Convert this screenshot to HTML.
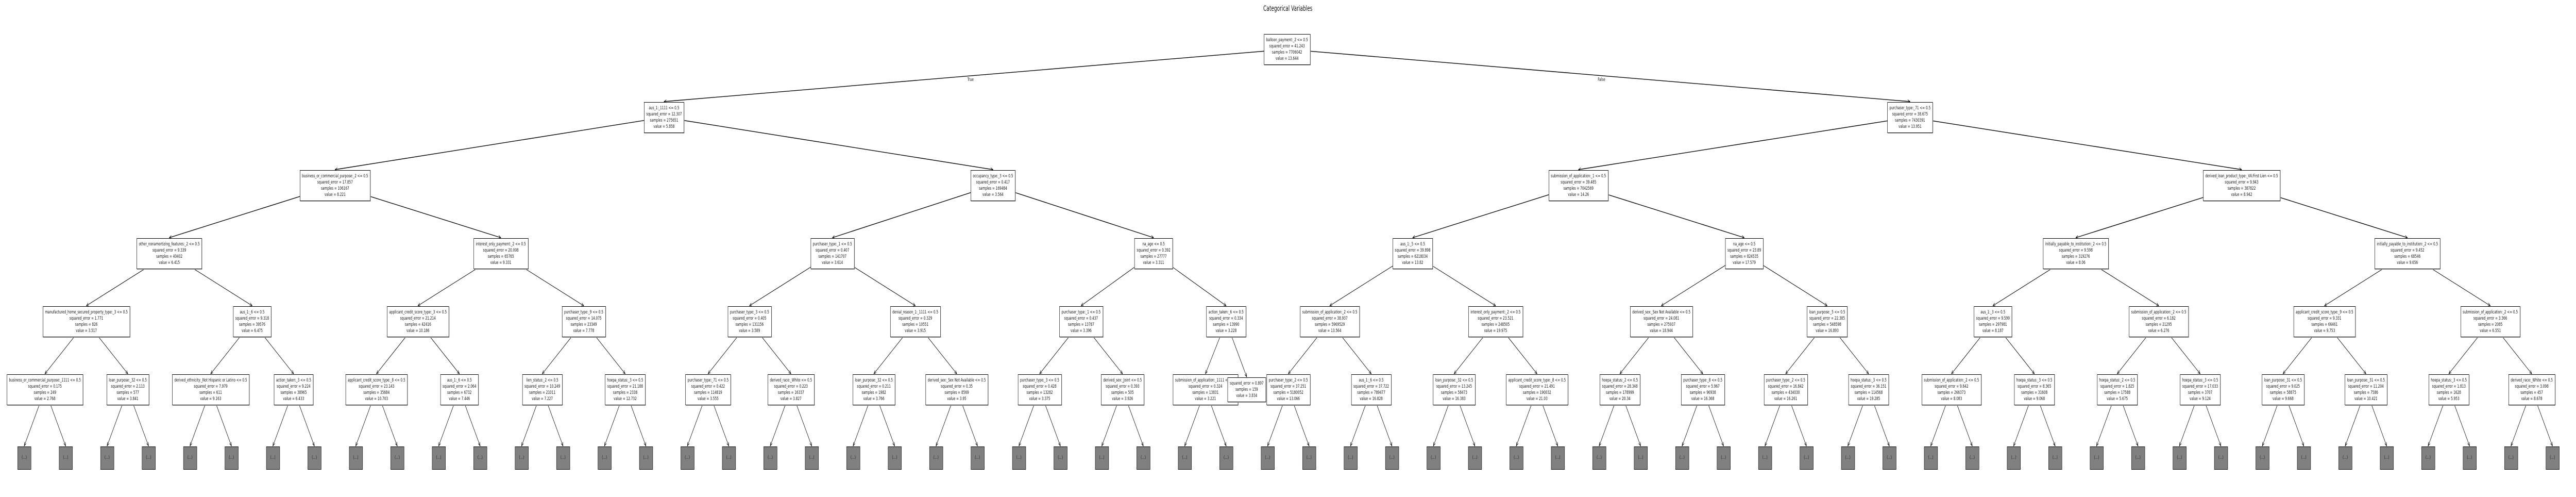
<!DOCTYPE html>
<html><head><meta charset="utf-8"><style>
html,body{margin:0;padding:0;background:#fff;overflow:hidden;}
#c{position:absolute;left:0;top:0;width:7769px;height:964px;overflow:hidden;background:#fff;font-family:"DejaVu Sans","Liberation Sans",sans-serif;transform-origin:0 0;}
svg{position:absolute;left:0;top:0;}
.n{position:absolute;transform:translate(-50%,-50%);background:#fff;border:1.5px solid #000;padding:5px 6px;font-size:9px;line-height:12px;text-align:center;white-space:nowrap;color:#111;box-shadow:1px 1px 0 #bbb;}
.l{position:absolute;width:39px;height:43px;background:#808080;border:1.5px solid #111;font-size:9px;line-height:43px;text-align:center;color:#222;top:866px;}
.t{position:absolute;font-size:9px;transform:translate(-50%,-50%);color:#111;}
#title{position:absolute;left:3884px;top:17px;transform:translate(-50%,-50%);font-size:14px;color:#111;white-space:nowrap;}
</style></head><body><div id="c">
<svg width="7769" height="964">
<defs><marker id="a" markerWidth="8" markerHeight="8" refX="7" refY="4" orient="auto" markerUnits="userSpaceOnUse"><path d="M0,1 L7,4 L0,7" fill="none" stroke="#000" stroke-width="1"/></marker></defs>
<g stroke="#000" stroke-width="1.4" marker-end="url(#a)">
<line x1="3881.6" y1="95.5" x2="2002.7" y2="197"/>
<line x1="3881.6" y1="95.5" x2="5760.5" y2="197"/>
<line x1="2002.7" y1="227.5" x2="1010.5" y2="329"/>
<line x1="2002.7" y1="227.5" x2="2994.8" y2="329"/>
<line x1="5760.5" y1="227.5" x2="4760.5" y2="329"/>
<line x1="5760.5" y1="227.5" x2="6760.5" y2="329"/>
<line x1="1010.5" y1="359.5" x2="510.5" y2="461"/>
<line x1="1010.5" y1="359.5" x2="1510.5" y2="461"/>
<line x1="2994.8" y1="359.5" x2="2510.5" y2="461"/>
<line x1="2994.8" y1="359.5" x2="3479.1" y2="461"/>
<line x1="4760.5" y1="359.5" x2="4260.5" y2="461"/>
<line x1="4760.5" y1="359.5" x2="5260.5" y2="461"/>
<line x1="6760.5" y1="359.5" x2="6260.5" y2="461"/>
<line x1="6760.5" y1="359.5" x2="7260.5" y2="461"/>
</g>
<g stroke="#000" stroke-width="1.1" marker-end="url(#a)">
<line x1="510.5" y1="491.5" x2="260.5" y2="593"/><line x1="510.5" y1="491.5" x2="760.5" y2="593"/>
<line x1="1510.5" y1="491.5" x2="1260.5" y2="593"/><line x1="1510.5" y1="491.5" x2="1760.5" y2="593"/>
<line x1="2510.5" y1="491.5" x2="2260.5" y2="593"/><line x1="2510.5" y1="491.5" x2="2760.5" y2="593"/>
<line x1="3479.1" y1="491.5" x2="3260.5" y2="593"/><line x1="3479.1" y1="491.5" x2="3697.75" y2="593"/>
<line x1="4260.5" y1="491.5" x2="4010.5" y2="593"/><line x1="4260.5" y1="491.5" x2="4510.5" y2="593"/>
<line x1="5260.5" y1="491.5" x2="5010.5" y2="593"/><line x1="5260.5" y1="491.5" x2="5510.5" y2="593"/>
<line x1="6260.5" y1="491.5" x2="6010.5" y2="593"/><line x1="6260.5" y1="491.5" x2="6510.5" y2="593"/>
<line x1="7260.5" y1="491.5" x2="7010.5" y2="593"/><line x1="7260.5" y1="491.5" x2="7510.5" y2="593"/>

<line x1="260.5" y1="623.5" x2="135.5" y2="725"/><line x1="260.5" y1="623.5" x2="385.5" y2="725"/>
<line x1="760.5" y1="623.5" x2="635.5" y2="725"/><line x1="760.5" y1="623.5" x2="885.5" y2="725"/>
<line x1="1260.5" y1="623.5" x2="1135.5" y2="725"/><line x1="1260.5" y1="623.5" x2="1385.5" y2="725"/>
<line x1="1760.5" y1="623.5" x2="1635.5" y2="725"/><line x1="1760.5" y1="623.5" x2="1885.5" y2="725"/>
<line x1="2260.5" y1="623.5" x2="2135.5" y2="725"/><line x1="2260.5" y1="623.5" x2="2385.5" y2="725"/>
<line x1="2760.5" y1="623.5" x2="2635.5" y2="725"/><line x1="2760.5" y1="623.5" x2="2885.5" y2="725"/>
<line x1="3260.5" y1="623.5" x2="3135.5" y2="725"/><line x1="3260.5" y1="623.5" x2="3385.5" y2="725"/>
<line x1="3697.75" y1="623.5" x2="3635.5" y2="725"/><line x1="3697.75" y1="623.5" x2="3760" y2="731"/>
<line x1="4010.5" y1="623.5" x2="3885.5" y2="725"/><line x1="4010.5" y1="623.5" x2="4135.5" y2="725"/>
<line x1="4510.5" y1="623.5" x2="4385.5" y2="725"/><line x1="4510.5" y1="623.5" x2="4635.5" y2="725"/>
<line x1="5010.5" y1="623.5" x2="4885.5" y2="725"/><line x1="5010.5" y1="623.5" x2="5135.5" y2="725"/>
<line x1="5510.5" y1="623.5" x2="5385.5" y2="725"/><line x1="5510.5" y1="623.5" x2="5635.5" y2="725"/>
<line x1="6010.5" y1="623.5" x2="5885.5" y2="725"/><line x1="6010.5" y1="623.5" x2="6135.5" y2="725"/>
<line x1="6510.5" y1="623.5" x2="6385.5" y2="725"/><line x1="6510.5" y1="623.5" x2="6635.5" y2="725"/>
<line x1="7010.5" y1="623.5" x2="6885.5" y2="725"/><line x1="7010.5" y1="623.5" x2="7135.5" y2="725"/>
<line x1="7510.5" y1="623.5" x2="7385.5" y2="725"/><line x1="7510.5" y1="623.5" x2="7635.5" y2="725"/>

<line x1="135.5" y1="755.5" x2="73" y2="865"/><line x1="135.5" y1="755.5" x2="198" y2="865"/>
<line x1="385.5" y1="755.5" x2="323" y2="865"/><line x1="385.5" y1="755.5" x2="448" y2="865"/>
<line x1="635.5" y1="755.5" x2="573" y2="865"/><line x1="635.5" y1="755.5" x2="698" y2="865"/>
<line x1="885.5" y1="755.5" x2="823" y2="865"/><line x1="885.5" y1="755.5" x2="948" y2="865"/>
<line x1="1135.5" y1="755.5" x2="1073" y2="865"/><line x1="1135.5" y1="755.5" x2="1198" y2="865"/>
<line x1="1385.5" y1="755.5" x2="1323" y2="865"/><line x1="1385.5" y1="755.5" x2="1448" y2="865"/>
<line x1="1635.5" y1="755.5" x2="1573" y2="865"/><line x1="1635.5" y1="755.5" x2="1698" y2="865"/>
<line x1="1885.5" y1="755.5" x2="1823" y2="865"/><line x1="1885.5" y1="755.5" x2="1948" y2="865"/>
<line x1="2135.5" y1="755.5" x2="2073" y2="865"/><line x1="2135.5" y1="755.5" x2="2198" y2="865"/>
<line x1="2385.5" y1="755.5" x2="2323" y2="865"/><line x1="2385.5" y1="755.5" x2="2448" y2="865"/>
<line x1="2635.5" y1="755.5" x2="2573" y2="865"/><line x1="2635.5" y1="755.5" x2="2698" y2="865"/>
<line x1="2885.5" y1="755.5" x2="2823" y2="865"/><line x1="2885.5" y1="755.5" x2="2948" y2="865"/>
<line x1="3135.5" y1="755.5" x2="3073" y2="865"/><line x1="3135.5" y1="755.5" x2="3198" y2="865"/>
<line x1="3385.5" y1="755.5" x2="3323" y2="865"/><line x1="3385.5" y1="755.5" x2="3448" y2="865"/>
<line x1="3635.5" y1="755.5" x2="3573" y2="865"/><line x1="3635.5" y1="755.5" x2="3698" y2="865"/>
<line x1="3885.5" y1="755.5" x2="3823" y2="865"/><line x1="3885.5" y1="755.5" x2="3948" y2="865"/>
<line x1="4135.5" y1="755.5" x2="4073" y2="865"/><line x1="4135.5" y1="755.5" x2="4198" y2="865"/>
<line x1="4385.5" y1="755.5" x2="4323" y2="865"/><line x1="4385.5" y1="755.5" x2="4448" y2="865"/>
<line x1="4635.5" y1="755.5" x2="4573" y2="865"/><line x1="4635.5" y1="755.5" x2="4698" y2="865"/>
<line x1="4885.5" y1="755.5" x2="4823" y2="865"/><line x1="4885.5" y1="755.5" x2="4948" y2="865"/>
<line x1="5135.5" y1="755.5" x2="5073" y2="865"/><line x1="5135.5" y1="755.5" x2="5198" y2="865"/>
<line x1="5385.5" y1="755.5" x2="5323" y2="865"/><line x1="5385.5" y1="755.5" x2="5448" y2="865"/>
<line x1="5635.5" y1="755.5" x2="5573" y2="865"/><line x1="5635.5" y1="755.5" x2="5698" y2="865"/>
<line x1="5885.5" y1="755.5" x2="5823" y2="865"/><line x1="5885.5" y1="755.5" x2="5948" y2="865"/>
<line x1="6135.5" y1="755.5" x2="6073" y2="865"/><line x1="6135.5" y1="755.5" x2="6198" y2="865"/>
<line x1="6385.5" y1="755.5" x2="6323" y2="865"/><line x1="6385.5" y1="755.5" x2="6448" y2="865"/>
<line x1="6635.5" y1="755.5" x2="6573" y2="865"/><line x1="6635.5" y1="755.5" x2="6698" y2="865"/>
<line x1="6885.5" y1="755.5" x2="6823" y2="865"/><line x1="6885.5" y1="755.5" x2="6948" y2="865"/>
<line x1="7135.5" y1="755.5" x2="7073" y2="865"/><line x1="7135.5" y1="755.5" x2="7198" y2="865"/>
<line x1="7385.5" y1="755.5" x2="7323" y2="865"/><line x1="7385.5" y1="755.5" x2="7448" y2="865"/>
<line x1="7635.5" y1="755.5" x2="7573" y2="865"/><line x1="7635.5" y1="755.5" x2="7698" y2="865"/>
</g></svg>

<div id="title">Categorical Variables</div>
<div class="t" style="left:2927px;top:155px">True</div>
<div class="t" style="left:4830px;top:155px">False</div>

<div class="n" style="left:3881.6px;top:95.5px">balloon_payment:_2 &lt;= 0.5<br>squared_error = 41.243<br>samples = 7706042<br>value = 13.644</div>

<div class="n" style="left:2002.7px;top:227.5px">aus_1:_1111 &lt;= 0.5<br>squared_error = 12.307<br>samples = 275651<br>value = 5.858</div>
<div class="n" style="left:5760.5px;top:227.5px">purchaser_type:_71 &lt;= 0.5<br>squared_error = 38.675<br>samples = 7430391<br>value = 13.951</div>

<div class="n" style="left:1010.5px;top:359.5px">business_or_commercial_purpose:_2 &lt;= 0.5<br>squared_error = 17.857<br>samples = 106167<br>value = 8.221</div>
<div class="n" style="left:2994.8px;top:359.5px">occupancy_type:_3 &lt;= 0.5<br>squared_error = 0.417<br>samples = 169484<br>value = 3.564</div>
<div class="n" style="left:4760.5px;top:359.5px">submission_of_application:_1 &lt;= 0.5<br>squared_error = 39.485<br>samples = 7042569<br>value = 14.26</div>
<div class="n" style="left:6760.5px;top:359.5px">derived_loan_product_type:_VA:First Lien &lt;= 0.5<br>squared_error = 9.943<br>samples = 387822<br>value = 8.942</div>

<div class="n" style="left:510.5px;top:491.5px">other_nonamortizing_features:_2 &lt;= 0.5<br>squared_error = 9.339<br>samples = 40402<br>value = 6.415</div>
<div class="n" style="left:1510.5px;top:491.5px">interest_only_payment:_2 &lt;= 0.5<br>squared_error = 20.008<br>samples = 65765<br>value = 9.331</div>
<div class="n" style="left:2510.5px;top:491.5px">purchaser_type:_1 &lt;= 0.5<br>squared_error = 0.407<br>samples = 141707<br>value = 3.614</div>
<div class="n" style="left:3479.1px;top:491.5px">na_age &lt;= 0.5<br>squared_error = 0.392<br>samples = 27777<br>value = 3.311</div>
<div class="n" style="left:4260.5px;top:491.5px">aus_1:_5 &lt;= 0.5<br>squared_error = 39.898<br>samples = 6218034<br>value = 13.82</div>
<div class="n" style="left:5260.5px;top:491.5px">na_age &lt;= 0.5<br>squared_error = 23.89<br>samples = 824535<br>value = 17.579</div>
<div class="n" style="left:6260.5px;top:491.5px">initially_payable_to_institution:_2 &lt;= 0.5<br>squared_error = 9.598<br>samples = 319276<br>value = 8.06</div>
<div class="n" style="left:7260.5px;top:491.5px">initially_payable_to_institution:_2 &lt;= 0.5<br>squared_error = 9.452<br>samples = 68546<br>value = 9.656</div>

<div class="n" style="left:260.5px;top:623.5px">manufactured_home_secured_property_type:_3 &lt;= 0.5<br>squared_error = 1.771<br>samples = 826<br>value = 3.517</div>
<div class="n" style="left:760.5px;top:623.5px">aus_1:_6 &lt;= 0.5<br>squared_error = 9.318<br>samples = 39576<br>value = 6.475</div>
<div class="n" style="left:1260.5px;top:623.5px">applicant_credit_score_type:_3 &lt;= 0.5<br>squared_error = 21.214<br>samples = 42416<br>value = 10.186</div>
<div class="n" style="left:1760.5px;top:623.5px">purchaser_type:_9 &lt;= 0.5<br>squared_error = 14.075<br>samples = 23349<br>value = 7.778</div>
<div class="n" style="left:2260.5px;top:623.5px">purchaser_type:_3 &lt;= 0.5<br>squared_error = 0.405<br>samples = 131156<br>value = 3.589</div>
<div class="n" style="left:2760.5px;top:623.5px">denial_reason_1:_1111 &lt;= 0.5<br>squared_error = 0.329<br>samples = 10551<br>value = 3.915</div>
<div class="n" style="left:3260.5px;top:623.5px">purchaser_type:_1 &lt;= 0.5<br>squared_error = 0.437<br>samples = 13787<br>value = 3.396</div>
<div class="n" style="left:3697.75px;top:623.5px">action_taken:_6 &lt;= 0.5<br>squared_error = 0.334<br>samples = 13990<br>value = 3.228</div>
<div class="n" style="left:4010.5px;top:623.5px">submission_of_application:_2 &lt;= 0.5<br>squared_error = 38.937<br>samples = 5969529<br>value = 13.564</div>
<div class="n" style="left:4510.5px;top:623.5px">interest_only_payment:_2 &lt;= 0.5<br>squared_error = 23.521<br>samples = 248505<br>value = 19.975</div>
<div class="n" style="left:5010.5px;top:623.5px">derived_sex:_Sex Not Available &lt;= 0.5<br>squared_error = 24.081<br>samples = 275937<br>value = 18.944</div>
<div class="n" style="left:5510.5px;top:623.5px">loan_purpose:_5 &lt;= 0.5<br>squared_error = 22.385<br>samples = 548598<br>value = 16.893</div>
<div class="n" style="left:6010.5px;top:623.5px">aus_1:_3 &lt;= 0.5<br>squared_error = 9.599<br>samples = 297981<br>value = 8.187</div>
<div class="n" style="left:6510.5px;top:623.5px">submission_of_application:_2 &lt;= 0.5<br>squared_error = 6.182<br>samples = 21295<br>value = 6.276</div>
<div class="n" style="left:7010.5px;top:623.5px">applicant_credit_score_type:_9 &lt;= 0.5<br>squared_error = 9.331<br>samples = 66461<br>value = 9.753</div>
<div class="n" style="left:7510.5px;top:623.5px">submission_of_application:_2 &lt;= 0.5<br>squared_error = 3.366<br>samples = 2085<br>value = 6.551</div>

<div class="n" style="left:135.5px;top:755.5px">business_or_commercial_purpose:_1111 &lt;= 0.5<br>squared_error = 0.175<br>samples = 249<br>value = 2.768</div>
<div class="n" style="left:385.5px;top:755.5px">loan_purpose:_32 &lt;= 0.5<br>squared_error = 2.113<br>samples = 577<br>value = 3.841</div>
<div class="n" style="left:635.5px;top:755.5px">derived_ethnicity:_Not Hispanic or Latino &lt;= 0.5<br>squared_error = 7.979<br>samples = 611<br>value = 9.163</div>
<div class="n" style="left:885.5px;top:755.5px">action_taken:_3 &lt;= 0.5<br>squared_error = 9.224<br>samples = 38965<br>value = 6.433</div>
<div class="n" style="left:1135.5px;top:755.5px">applicant_credit_score_type:_8 &lt;= 0.5<br>squared_error = 23.143<br>samples = 35684<br>value = 10.703</div>
<div class="n" style="left:1385.5px;top:755.5px">aus_1:_6 &lt;= 0.5<br>squared_error = 2.064<br>samples = 6732<br>value = 7.446</div>
<div class="n" style="left:1635.5px;top:755.5px">lien_status:_2 &lt;= 0.5<br>squared_error = 10.249<br>samples = 21011<br>value = 7.227</div>
<div class="n" style="left:1885.5px;top:755.5px">hoepa_status:_3 &lt;= 0.5<br>squared_error = 21.188<br>samples = 2338<br>value = 12.732</div>
<div class="n" style="left:2135.5px;top:755.5px">purchaser_type:_71 &lt;= 0.5<br>squared_error = 0.422<br>samples = 114819<br>value = 3.555</div>
<div class="n" style="left:2385.5px;top:755.5px">derived_race:_White &lt;= 0.5<br>squared_error = 0.223<br>samples = 16337<br>value = 3.827</div>
<div class="n" style="left:2635.5px;top:755.5px">loan_purpose:_32 &lt;= 0.5<br>squared_error = 0.211<br>samples = 1982<br>value = 3.766</div>
<div class="n" style="left:2885.5px;top:755.5px">derived_sex:_Sex Not Available &lt;= 0.5<br>squared_error = 0.35<br>samples = 8569<br>value = 3.95</div>
<div class="n" style="left:3135.5px;top:755.5px">purchaser_type:_3 &lt;= 0.5<br>squared_error = 0.428<br>samples = 13282<br>value = 3.375</div>
<div class="n" style="left:3385.5px;top:755.5px">derived_sex:_Joint &lt;= 0.5<br>squared_error = 0.393<br>samples = 505<br>value = 3.926</div>
<div class="n" style="left:3635.5px;top:755.5px">submission_of_application:_1111 &lt;= 0.5<br>squared_error = 0.324<br>samples = 13831<br>value = 3.221</div>
<div class="n" style="left:3760px;top:755.5px">squared_error = 0.897<br>samples = 159<br>value = 3.834</div>
<div class="n" style="left:3885.5px;top:755.5px">purchaser_type:_2 &lt;= 0.5<br>squared_error = 37.251<br>samples = 5180052<br>value = 13.066</div>
<div class="n" style="left:4135.5px;top:755.5px">aus_1:_6 &lt;= 0.5<br>squared_error = 37.722<br>samples = 789477<br>value = 16.828</div>
<div class="n" style="left:4385.5px;top:755.5px">loan_purpose:_32 &lt;= 0.5<br>squared_error = 13.245<br>samples = 58473<br>value = 16.383</div>
<div class="n" style="left:4635.5px;top:755.5px">applicant_credit_score_type:_8 &lt;= 0.5<br>squared_error = 21.491<br>samples = 190032<br>value = 21.03</div>
<div class="n" style="left:4885.5px;top:755.5px">hoepa_status:_2 &lt;= 0.5<br>squared_error = 28.348<br>samples = 178999<br>value = 20.34</div>
<div class="n" style="left:5135.5px;top:755.5px">purchaser_type:_8 &lt;= 0.5<br>squared_error = 5.967<br>samples = 96938<br>value = 16.368</div>
<div class="n" style="left:5385.5px;top:755.5px">purchaser_type:_2 &lt;= 0.5<br>squared_error = 16.842<br>samples = 434030<br>value = 16.261</div>
<div class="n" style="left:5635.5px;top:755.5px">hoepa_status:_3 &lt;= 0.5<br>squared_error = 36.151<br>samples = 114568<br>value = 19.285</div>
<div class="n" style="left:5885.5px;top:755.5px">submission_of_application:_2 &lt;= 0.5<br>squared_error = 9.642<br>samples = 266373<br>value = 8.083</div>
<div class="n" style="left:6135.5px;top:755.5px">hoepa_status:_3 &lt;= 0.5<br>squared_error = 8.365<br>samples = 31608<br>value = 9.068</div>
<div class="n" style="left:6385.5px;top:755.5px">hoepa_status:_2 &lt;= 0.5<br>squared_error = 1.825<br>samples = 17588<br>value = 5.675</div>
<div class="n" style="left:6635.5px;top:755.5px">hoepa_status:_3 &lt;= 0.5<br>squared_error = 17.033<br>samples = 3707<br>value = 9.124</div>
<div class="n" style="left:6885.5px;top:755.5px">loan_purpose:_31 &lt;= 0.5<br>squared_error = 9.025<br>samples = 58875<br>value = 9.668</div>
<div class="n" style="left:7135.5px;top:755.5px">loan_purpose:_31 &lt;= 0.5<br>squared_error = 11.204<br>samples = 7586<br>value = 10.421</div>
<div class="n" style="left:7385.5px;top:755.5px">hoepa_status:_3 &lt;= 0.5<br>squared_error = 1.813<br>samples = 1628<br>value = 5.953</div>
<div class="n" style="left:7635.5px;top:755.5px">derived_race:_White &lt;= 0.5<br>squared_error = 3.098<br>samples = 457<br>value = 8.678</div>

<div class="l" style="left:52.5px">(...)</div><div class="l" style="left:177.5px">(...)</div><div class="l" style="left:302.5px">(...)</div><div class="l" style="left:427.5px">(...)</div>
<div class="l" style="left:552.5px">(...)</div><div class="l" style="left:677.5px">(...)</div><div class="l" style="left:802.5px">(...)</div><div class="l" style="left:927.5px">(...)</div>
<div class="l" style="left:1052.5px">(...)</div><div class="l" style="left:1177.5px">(...)</div><div class="l" style="left:1302.5px">(...)</div><div class="l" style="left:1427.5px">(...)</div>
<div class="l" style="left:1552.5px">(...)</div><div class="l" style="left:1677.5px">(...)</div><div class="l" style="left:1802.5px">(...)</div><div class="l" style="left:1927.5px">(...)</div>
<div class="l" style="left:2052.5px">(...)</div><div class="l" style="left:2177.5px">(...)</div><div class="l" style="left:2302.5px">(...)</div><div class="l" style="left:2427.5px">(...)</div>
<div class="l" style="left:2552.5px">(...)</div><div class="l" style="left:2677.5px">(...)</div><div class="l" style="left:2802.5px">(...)</div><div class="l" style="left:2927.5px">(...)</div>
<div class="l" style="left:3052.5px">(...)</div><div class="l" style="left:3177.5px">(...)</div><div class="l" style="left:3302.5px">(...)</div><div class="l" style="left:3427.5px">(...)</div>
<div class="l" style="left:3552.5px">(...)</div><div class="l" style="left:3677.5px">(...)</div><div class="l" style="left:3802.5px">(...)</div><div class="l" style="left:3927.5px">(...)</div>
<div class="l" style="left:4052.5px">(...)</div><div class="l" style="left:4177.5px">(...)</div><div class="l" style="left:4302.5px">(...)</div><div class="l" style="left:4427.5px">(...)</div>
<div class="l" style="left:4552.5px">(...)</div><div class="l" style="left:4677.5px">(...)</div><div class="l" style="left:4802.5px">(...)</div><div class="l" style="left:4927.5px">(...)</div>
<div class="l" style="left:5052.5px">(...)</div><div class="l" style="left:5177.5px">(...)</div><div class="l" style="left:5302.5px">(...)</div><div class="l" style="left:5427.5px">(...)</div>
<div class="l" style="left:5552.5px">(...)</div><div class="l" style="left:5677.5px">(...)</div><div class="l" style="left:5802.5px">(...)</div><div class="l" style="left:5927.5px">(...)</div>
<div class="l" style="left:6052.5px">(...)</div><div class="l" style="left:6177.5px">(...)</div><div class="l" style="left:6302.5px">(...)</div><div class="l" style="left:6427.5px">(...)</div>
<div class="l" style="left:6552.5px">(...)</div><div class="l" style="left:6677.5px">(...)</div><div class="l" style="left:6802.5px">(...)</div><div class="l" style="left:6927.5px">(...)</div>
<div class="l" style="left:7052.5px">(...)</div><div class="l" style="left:7177.5px">(...)</div><div class="l" style="left:7302.5px">(...)</div><div class="l" style="left:7427.5px">(...)</div>
<div class="l" style="left:7552.5px">(...)</div><div class="l" style="left:7677.5px">(...)</div>
</div>
<script>
(function(){
  var c=document.getElementById('c');
  function fit(){
    var w=window.innerWidth||document.documentElement.clientWidth||7769;
    var h=window.innerHeight||document.documentElement.clientHeight||964;
    var sx=w/7769, sy=h/964;
    if(Math.abs(sx-1)<0.001 && Math.abs(sy-1)<0.001){c.style.transform='none';}
    else{c.style.transform='scale('+sx+','+sy+')';}
  }
  fit();
  window.addEventListener('resize',fit);
})();
</script>
</body></html>
